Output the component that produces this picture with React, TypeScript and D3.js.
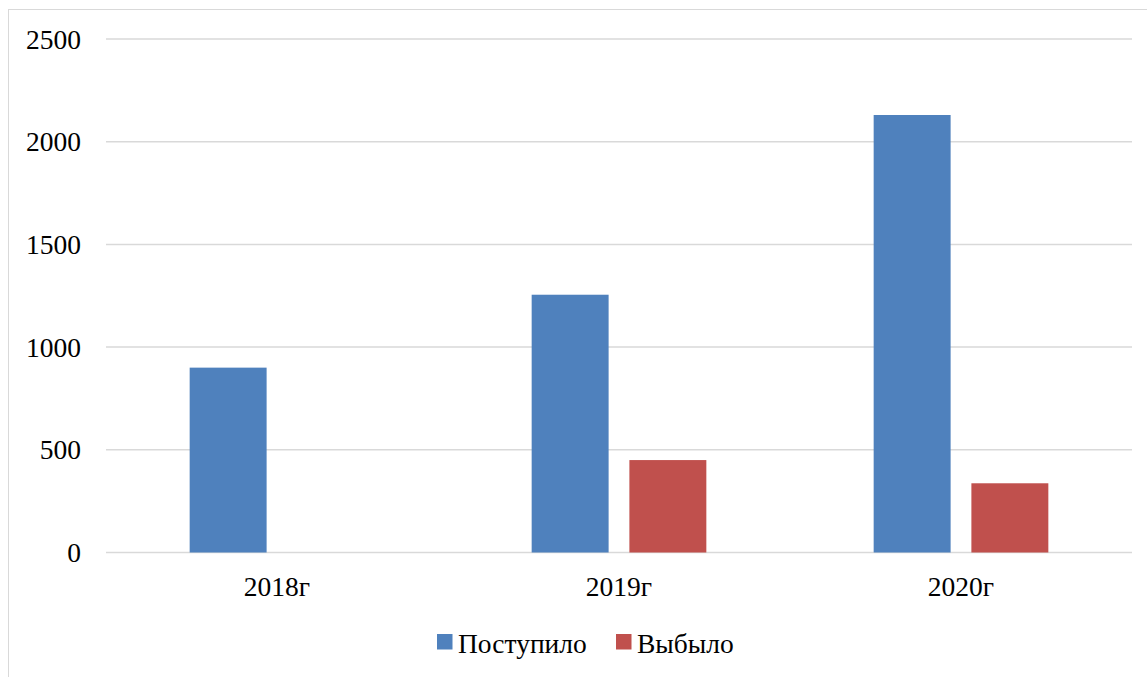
import React from "react";
import * as d3 from "d3";

const categories = ["2018г", "2019г", "2020г"];
const seriesNames = ["Поступило", "Выбыло"];
const postupilo = [900, 1255, 2130];
const vybylo = [0, 450, 337];
const yTicks = [0, 500, 1000, 1500, 2000, 2500];
const colors = ["#4F81BD", "#C0504D"];

export default function App() {
  const W = 1147;
  const H = 677;
  const x = d3.scaleBand<string>().domain(categories).range([106, 1132]).padding(0);
  const y = d3.scaleLinear().domain([0, 2500]).range([552.5, 39]);
  const bw = x.bandwidth() * 0.225;
  const gap = bw * 0.27;
  const series = [postupilo, vybylo];
  const font = "'Liberation Serif', 'Times New Roman', serif";

  const legendItems = [
    { name: seriesNames[0], color: colors[0], x: 437 },
    { name: seriesNames[1], color: colors[1], x: 616 },
  ];

  return (
    <svg
      width={W}
      height={H}
      style={{ position: "absolute", left: 0, top: 0, background: "#fff" }}
      fontFamily={font}
    >
      <rect x={8.5} y={9.5} width={1150} height={700} fill="#fff" stroke="#D9D9D9" strokeWidth={1} />
      {yTicks.map((t) => (
        <g key={t}>
          <line x1={106} x2={1132} y1={y(t)} y2={y(t)} stroke="#D9D9D9" strokeWidth={1.5} />
          <text x={81} y={y(t)} dy="0.35em" textAnchor="end" fontSize={27.5} fill="#000">
            {t}
          </text>
        </g>
      ))}
      {series.map((vals, si) =>
        categories.map((c, ci) => {
          const cx = (x(c) as number) + x.bandwidth() / 2;
          const bx = si === 0 ? cx - gap / 2 - bw : cx + gap / 2;
          const v = vals[ci];
          if (!v) return null;
          return (
            <rect
              key={`${si}-${ci}`}
              x={bx}
              y={y(v)}
              width={bw}
              height={y(0) - y(v)}
              fill={colors[si]}
            />
          );
        })
      )}
      {categories.map((c) => (
        <text
          key={c}
          x={(x(c) as number) + x.bandwidth() / 2}
          y={596}
          textAnchor="middle"
          fontSize={27.5}
          fill="#000"
        >
          {c}
        </text>
      ))}
      {legendItems.map((l) => (
        <g key={l.name}>
          <rect x={l.x} y={634} width={15.5} height={15.5} fill={l.color} />
          <text x={l.x + 21} y={653} fontSize={27.5} fill="#000">
            {l.name}
          </text>
        </g>
      ))}
    </svg>
  );
}
